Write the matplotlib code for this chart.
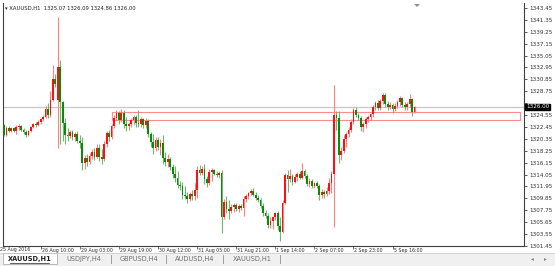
import matplotlib
matplotlib.use("Agg")
import matplotlib.pyplot as plt
from matplotlib.patches import Rectangle, Polygon
from matplotlib.lines import Line2D
import matplotlib.transforms as mtransforms

# ---------------- data (hourly XAUUSD candles) ----------------
opens = [1322.8, 1321.0, 1322.2, 1321.8, 1322.2, 1321.8, 1322.4, 1322.6, 1322.0, 1321.5,
         1321.0, 1321.8, 1322.5, 1323.0, 1322.8, 1323.4, 1323.8, 1324.3, 1325.6, 1324.5,
         1327.3, 1331.0, 1327.2, 1333.0, 1326.8, 1323.2, 1321.0, 1320.8, 1321.5, 1320.6,
         1321.2, 1320.0, 1319.6, 1316.1, 1317.0, 1316.3, 1317.4, 1318.0, 1317.2, 1318.8,
         1317.2, 1316.8, 1319.5, 1321.4, 1320.6, 1322.6, 1324.0, 1324.9, 1323.6, 1325.0,
         1323.0, 1322.6, 1323.0, 1323.6, 1324.3, 1323.2, 1322.9, 1323.8, 1322.8, 1323.5,
         1321.2, 1319.8, 1318.8, 1320.2, 1319.0, 1319.6, 1317.0, 1316.2, 1316.8, 1315.4,
         1314.2, 1313.4, 1312.3, 1312.0, 1310.5, 1310.2, 1309.8, 1310.6, 1310.2, 1311.3,
         1314.8, 1314.4, 1315.0, 1313.2, 1312.6, 1314.5, 1314.8, 1314.2, 1313.9, 1314.3,
         1306.5, 1309.2, 1308.0, 1307.6, 1308.3, 1308.6, 1307.9, 1308.5, 1308.1, 1309.8,
         1310.2, 1310.8, 1311.1, 1310.5, 1309.9, 1309.6, 1308.5, 1307.2, 1306.8, 1305.2,
         1305.9, 1306.6, 1307.2, 1305.0, 1304.0, 1309.0, 1314.0, 1313.2, 1313.8, 1312.8,
         1313.6, 1314.1, 1313.5, 1314.7, 1313.8, 1312.4, 1313.0, 1312.0, 1312.5, 1312.0,
         1310.4, 1311.0, 1310.6, 1311.2, 1312.5, 1314.2, 1324.6, 1324.0, 1317.5, 1318.3,
         1320.4, 1321.2, 1322.0, 1323.3, 1325.5, 1324.6, 1324.0, 1322.4, 1323.0, 1323.8,
         1324.3, 1324.7, 1325.9, 1326.7, 1325.8, 1327.1, 1328.1, 1326.5, 1325.9, 1326.4,
         1325.6, 1326.2, 1326.8, 1327.6, 1326.3, 1325.9, 1326.5, 1327.4, 1325.07]
highs = [1323.0, 1322.6, 1322.6, 1322.5, 1322.5, 1322.8, 1322.9, 1322.8, 1322.3, 1321.9,
         1322.0, 1322.7, 1323.2, 1323.3, 1323.6, 1324.0, 1324.6, 1326.2, 1326.6, 1328.8,
         1333.4, 1331.8, 1341.9, 1334.3, 1327.0, 1324.0, 1322.2, 1322.0, 1322.0, 1321.6,
         1321.8, 1321.0, 1320.6, 1317.5, 1317.6, 1317.8, 1318.6, 1318.8, 1319.4, 1319.5,
         1318.5, 1320.0, 1321.8, 1322.0, 1323.0, 1324.5, 1325.4, 1325.3, 1325.6, 1325.4,
         1324.2, 1323.4, 1324.0, 1324.6, 1324.6, 1325.4, 1324.2, 1324.1, 1324.0, 1323.8,
         1321.6, 1321.2, 1320.6, 1320.6, 1320.4, 1321.0, 1318.0, 1317.6, 1317.2, 1316.0,
         1315.5, 1314.6, 1313.0, 1312.8, 1312.0, 1311.0, 1311.0, 1311.4, 1312.5, 1315.5,
         1315.8, 1315.6, 1315.9, 1313.8, 1315.0, 1315.2, 1315.1, 1314.6, 1314.6, 1314.8,
         1309.8, 1310.2, 1309.6, 1308.8, 1309.0, 1309.0, 1308.9, 1308.8, 1310.2, 1310.6,
         1311.0, 1311.5, 1311.6, 1310.9, 1310.4, 1310.0, 1309.0, 1307.8, 1307.2, 1306.6,
         1306.8, 1307.5, 1307.6, 1306.5, 1309.6, 1314.4, 1314.8, 1315.0, 1314.2, 1314.2,
         1314.5, 1314.6, 1316.1, 1315.0, 1314.2, 1313.4, 1313.3, 1312.8, 1312.9, 1312.4,
         1311.5, 1311.4, 1311.8, 1313.5, 1314.6, 1329.9, 1325.2, 1325.3, 1319.0, 1321.0,
         1321.6, 1322.4, 1323.8, 1325.8, 1325.9, 1325.0, 1324.4, 1323.4, 1324.2, 1324.6,
         1325.0, 1326.4, 1327.0, 1327.2, 1327.4, 1328.5, 1328.4, 1327.0, 1326.8, 1326.6,
         1326.6, 1327.2, 1327.9, 1327.8, 1326.8, 1326.8, 1328.2, 1327.6, 1326.09]
lows = [1320.8, 1320.8, 1321.6, 1321.5, 1321.5, 1321.2, 1322.0, 1321.8, 1321.2, 1320.6,
        1320.8, 1321.5, 1322.2, 1322.5, 1322.6, 1323.0, 1323.5, 1324.0, 1324.0, 1324.3,
        1327.0, 1329.5, 1318.7, 1319.5, 1320.0, 1319.5, 1320.0, 1320.5, 1320.2, 1320.0,
        1319.6, 1318.8, 1314.9, 1315.0, 1315.6, 1316.0, 1316.8, 1316.6, 1316.9, 1316.5,
        1316.0, 1316.4, 1319.0, 1320.0, 1320.3, 1322.2, 1323.6, 1323.0, 1323.3, 1322.2,
        1321.8, 1322.0, 1322.5, 1322.8, 1322.5, 1322.4, 1322.5, 1322.3, 1322.3, 1320.6,
        1319.0, 1317.6, 1318.2, 1318.4, 1317.5, 1316.0, 1315.6, 1315.4, 1314.8, 1313.5,
        1312.8, 1311.6, 1311.4, 1309.8, 1309.7, 1309.0, 1309.4, 1309.6, 1309.6, 1310.0,
        1314.0, 1314.0, 1312.4, 1311.8, 1312.3, 1313.0, 1313.9, 1313.6, 1313.5, 1303.8,
        1306.2, 1307.2, 1306.3, 1307.2, 1307.5, 1307.6, 1307.5, 1307.8, 1306.8, 1309.3,
        1309.8, 1310.4, 1310.2, 1309.6, 1309.2, 1308.2, 1306.8, 1306.4, 1304.6, 1304.6,
        1304.5, 1306.0, 1304.2, 1302.4, 1303.8, 1308.8, 1311.0, 1312.8, 1312.3, 1312.5,
        1313.0, 1313.2, 1313.2, 1313.4, 1312.0, 1311.8, 1311.6, 1311.6, 1311.6, 1309.6,
        1310.0, 1310.0, 1310.3, 1310.6, 1310.8, 1304.8, 1322.0, 1316.1, 1316.6, 1317.8,
        1319.0, 1320.6, 1321.6, 1323.0, 1324.2, 1323.6, 1321.8, 1321.6, 1322.3, 1323.3,
        1323.6, 1324.2, 1325.4, 1325.4, 1325.4, 1326.5, 1326.0, 1325.5, 1325.6, 1325.0,
        1325.2, 1325.8, 1326.2, 1325.9, 1325.4, 1325.4, 1325.9, 1324.4, 1324.86]
closes = [1321.0, 1322.2, 1321.8, 1322.2, 1321.8, 1322.4, 1322.6, 1322.0, 1321.5, 1321.0,
          1321.8, 1322.5, 1323.0, 1322.8, 1323.4, 1323.8, 1324.3, 1325.6, 1324.5, 1327.3,
          1331.0, 1330.0, 1333.0, 1326.8, 1323.2, 1321.0, 1320.8, 1321.5, 1320.6, 1321.2,
          1320.0, 1319.6, 1316.1, 1317.0, 1316.3, 1317.4, 1318.0, 1317.2, 1318.8, 1317.2,
          1316.8, 1319.5, 1321.4, 1320.6, 1322.6, 1324.0, 1324.9, 1323.6, 1325.0, 1323.0,
          1322.6, 1323.0, 1323.6, 1324.3, 1323.2, 1322.9, 1323.8, 1322.8, 1323.5, 1321.2,
          1319.8, 1318.8, 1320.2, 1319.0, 1319.6, 1317.0, 1316.2, 1316.8, 1315.4, 1314.2,
          1313.4, 1312.3, 1312.0, 1310.5, 1310.2, 1309.8, 1310.6, 1310.2, 1311.3, 1314.8,
          1314.4, 1315.0, 1313.2, 1312.6, 1314.5, 1314.8, 1314.2, 1313.9, 1314.3, 1306.5,
          1309.2, 1308.0, 1307.6, 1308.3, 1308.6, 1307.9, 1308.5, 1308.1, 1309.8, 1310.2,
          1310.8, 1311.1, 1310.5, 1309.9, 1309.6, 1308.5, 1307.2, 1306.8, 1305.2, 1305.9,
          1306.6, 1307.2, 1305.0, 1304.0, 1309.0, 1314.0, 1313.2, 1313.8, 1312.8, 1313.6,
          1314.1, 1313.5, 1314.7, 1313.8, 1312.4, 1313.0, 1312.0, 1312.5, 1312.0, 1310.4,
          1311.0, 1310.6, 1311.2, 1312.5, 1314.2, 1324.6, 1324.0, 1317.5, 1318.3, 1320.4,
          1321.2, 1322.0, 1323.3, 1325.5, 1324.6, 1324.0, 1322.4, 1323.0, 1323.8, 1324.3,
          1324.7, 1325.9, 1326.7, 1325.8, 1327.1, 1328.1, 1326.5, 1325.9, 1326.4, 1325.6,
          1326.2, 1326.8, 1327.6, 1326.3, 1325.9, 1326.5, 1327.4, 1325.1, 1326.00]

price_ticks = [1343.45, 1341.35, 1339.25, 1337.15, 1335.05, 1332.95, 1330.85, 1328.75,
               1326.65, 1324.55, 1322.45, 1320.35, 1318.25, 1316.15, 1314.05, 1311.95,
               1309.85, 1307.75, 1305.65, 1303.55, 1301.45]
hidden_tick = 1326.65  # covered by the current-price box in the reference
date_tick_bars = [15, 31, 47, 63, 79, 95, 111, 127, 143, 159]
date_tick_labels = ["26 Aug 10:00", "29 Aug 03:00", "29 Aug 19:00", "30 Aug 12:00",
                    "31 Aug 05:00", "31 Aug 21:00", "1 Sep 14:00", "2 Sep 07:00",
                    "2 Sep 23:00", "5 Sep 16:00"]
first_date_label = "25 Aug 2016"
symbol = "XAUUSD,H1"
header_ohlc = ["1325.07", "1326.09", "1324.86", "1326.00"]
bid_price = 1326.00
zone_start_bar, zone_end_bar = 44, 211
zone_low, zone_high = 1323.7, 1325.1
tabs = ["XAUUSD,H1", "USDJPY,H4", "GBPUSD,H4", "AUDUSD,H4", "XAUUSD,H1"]

# ---------------- figure ----------------
W, H = 555, 266
fig = plt.figure(figsize=(W / 100, H / 100), dpi=100)
fig.patch.set_facecolor("white")

def fx(px):
    return px / W

def fy(py):
    return 1 - py / H

ax_left, ax_right, ax_top, ax_bot = 3, 524, 3, 246
ax = fig.add_axes([fx(ax_left), fy(ax_bot), (ax_right - ax_left) / W, (ax_bot - ax_top) / H])
ax.set_facecolor("white")

bar_px = 2.444
first_px = 4.0
ax.set_xlim((ax_left - first_px) / bar_px, (ax_right - first_px) / bar_px)
ax.set_ylim(1301.45, 1344.33)

xs = list(range(len(closes)))
up = [c >= o for o, c in zip(opens, closes)]
wick_cols = ["#ff8080" if u else "#70b870" for u in up]
body_cols = ["#ff1010" if u else "#0a8a0a" for u in up]
ax.vlines(xs, lows, highs, colors=wick_cols, linewidth=0.8, zorder=3)
bottoms = [min(o, c) for o, c in zip(opens, closes)]
heights = [max(abs(c - o), 0.12) for o, c in zip(opens, closes)]
ax.bar(xs, heights, bottom=bottoms, width=0.72, color=body_cols, linewidth=0, zorder=4)

# bid line and zone rectangle
ax.axhline(bid_price, color="#c8c8c8", linewidth=0.9, zorder=2)
ax.add_patch(Rectangle((zone_start_bar, zone_low), zone_end_bar - zone_start_bar,
                       zone_high - zone_low, fill=False, edgecolor="#ff8c8c",
                       linewidth=0.8, zorder=2))

# spines
ax.spines["top"].set_visible(False)
for s in ["left", "right", "bottom"]:
    ax.spines[s].set_color("#404040")
    ax.spines[s].set_linewidth(0.8)

# right price axis
ax.yaxis.tick_right()
ax.set_yticks(price_ticks)
ax.set_yticklabels(["" if v == hidden_tick else f"{v:.2f}" for v in price_ticks])
ax.tick_params(axis="y", direction="out", length=2, width=0.6, pad=1.8,
               labelsize=4.1, labelcolor="#303030", color="#404040")

# bottom time axis
ax.set_xticks(date_tick_bars)
ax.set_xticklabels([])
ax.tick_params(axis="x", direction="out", length=2.5, width=0.5, color="#404040")
xt = ax.get_xaxis_transform()
for b, lab in zip(date_tick_bars, date_tick_labels):
    ax.text(b + 0.4, -0.017, lab, transform=xt, fontsize=3.4, color="#303030",
            ha="left", va="center", clip_on=False)
fig.text(fx(0), fy(250), first_date_label, fontsize=3.4, color="#303030",
         ha="left", va="center")

# header
fig.text(fx(5), fy(8), "\u25be " + symbol + "  " + " ".join(header_ohlc),
         fontsize=3.8, color="#202020", ha="left", va="center")

# current price label on axis
bt = mtransforms.blended_transform_factory(ax.transAxes, ax.transData)
ax.text(1.004, bid_price, "1326.00", transform=bt, fontsize=4.1, color="white",
        ha="left", va="center", clip_on=False, zorder=10,
        bbox=dict(boxstyle="square,pad=0.15", facecolor="black", edgecolor="black"))

# chart-shift marker
fig.patches.append(Polygon([[fx(414), fy(4)], [fx(420), fy(4)], [fx(417), fy(7)]],
                           closed=True, facecolor="#909090", edgecolor="none",
                           transform=fig.transFigure, figure=fig))

# bottom tab bar
fig.patches.append(Rectangle((0, 0), 1, (H - 253) / H, transform=fig.transFigure,
                             facecolor="#f0f0f0", edgecolor="none", figure=fig, zorder=0))
fig.patches.append(Rectangle((fx(3), fy(264)), (57 - 3) / W, (264 - 253) / H,
                             transform=fig.transFigure, facecolor="white",
                             edgecolor="#a0a0a0", linewidth=0.5, figure=fig, zorder=1))
fig.lines.append(Line2D([0, 1], [fy(253), fy(253)], transform=fig.transFigure,
                        color="#c8c8c8", linewidth=0.5, figure=fig))
tab_centers = [30, 84, 139, 195, 252]
tab_seps = [111, 166, 223, 280]
for i, (t, c) in enumerate(zip(tabs, tab_centers)):
    fig.text(fx(c), fy(259), t, fontsize=4.8, ha="center", va="center",
             color="#202020" if i == 0 else "#707070",
             fontweight="bold" if i == 0 else "normal")
for s in tab_seps:
    fig.lines.append(Line2D([fx(s), fx(s)], [fy(255), fy(263)], transform=fig.transFigure,
                            color="#909090", linewidth=0.6, figure=fig))
fig.lines.append(Line2D([fx(10), fx(49)], [fy(263), fy(263)], transform=fig.transFigure,
                        color="#202020", linewidth=0.5, figure=fig))
fig.text(fx(532), fy(259), "\u25c2", fontsize=4, color="#808080", ha="center", va="center")
fig.text(fx(545), fy(259), "\u25b8", fontsize=4, color="#808080", ha="center", va="center")

fig.savefig("out.png", dpi=100, facecolor="white")
